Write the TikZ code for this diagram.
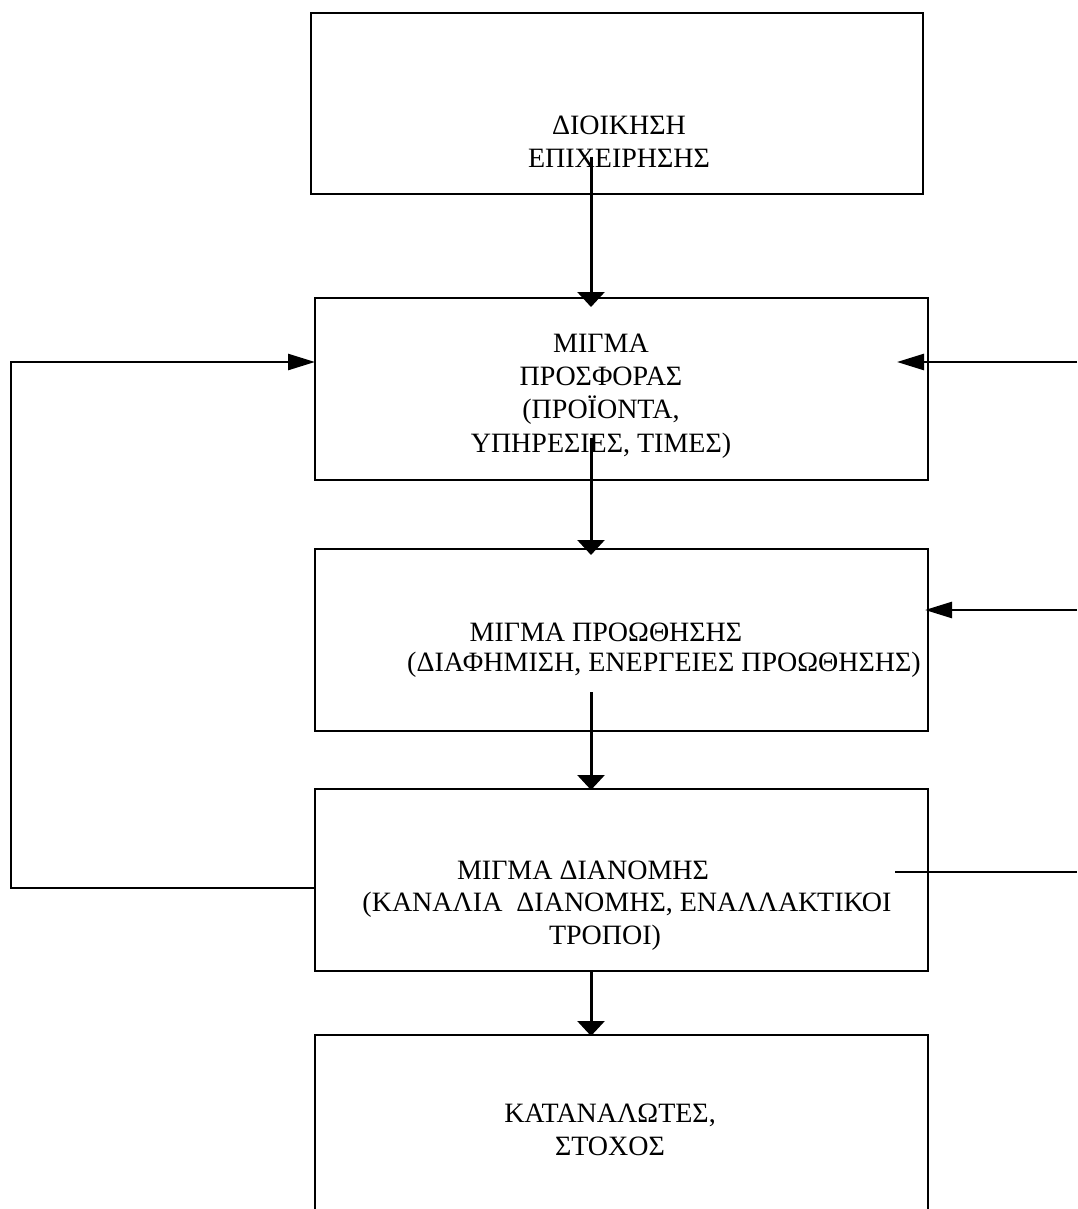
\documentclass[tikz,border=0pt]{standalone}
\usepackage{fontspec}
\setmainfont{Liberation Serif}
\usetikzlibrary{arrows.meta}
\begin{document}
\begin{tikzpicture}[x=0.5pt,y=-0.5pt,
  box/.style={draw, line width=1pt, rectangle, inner sep=0pt, outer sep=0pt},
  label/.style={font=\fontsize{14pt}{16.6pt}\selectfont, align=center, inner sep=0pt},
  downarrow/.style={line width=1.5pt, -{Triangle[width=13.5pt,length=7.5pt]}},
  sidearrow/.style={line width=1.3pt, -{Triangle[width=8pt,length=13.5pt]}},
  plainline/.style={line width=1.3pt}]
\useasboundingbox (0,0) rectangle (1077,1209);
\clip (0,0) rectangle (1077,1209);

% boxes
\node[box, minimum width=306pt, minimum height=90.5pt] (dioikisi) at (617,103.5) {};
\node[box, minimum width=306.5pt, minimum height=91pt] (prosfora) at (621.5,389) {};
\node[box, minimum width=306.5pt, minimum height=91pt] (proothisi) at (621.5,640) {};
\node[box, minimum width=306.5pt, minimum height=91pt] (dianomi) at (621.5,880) {};
\node[box, minimum width=306.5pt, minimum height=91pt] (katanalotes) at (621.5,1126) {};

% texts
\node[label] (t1) at (619,142) {ΔΙΟΙΚΗΣΗ\\ΕΠΙΧΕΙΡΗΣΗΣ};
\node[label] (t2) at (601,396) {ΜΙΓΜΑ\\ΠΡΟΣΦΟΡΑΣ\\(ΠΡΟΪΟΝΤΑ,\\ΥΠΗΡΕΣΙΕΣ, ΤΙΜΕΣ)};
\node[label] (t3a) at (606,632) {ΜΙΓΜΑ ΠΡΟΩΘΗΣΗΣ};
\node[label] (t3b) at (664,665) {(ΔΙΑΦΗΜΙΣΗ, ΕΝΕΡΓΕΙΕΣ ΠΡΟΩΘΗΣΗΣ)};
\node[label] (t4a) at (583,870) {ΜΙΓΜΑ ΔΙΑΝΟΜΗΣ};
\node[label] (t4b) at (627,905) {(ΚΑΝΑΛΙΑ\ \ ΔΙΑΝΟΜΗΣ, ΕΝΑΛΛΑΚΤΙΚΟΙ};
\node[label] (t4c) at (605,938) {ΤΡΟΠΟΙ)};
\node[label] (t5) at (610,1130) {ΚΑΤΑΝΑΛΩΤΕΣ,\\ΣΤΟΧΟΣ};

% points for the vertical flow
\coordinate (d1) at (591,157);
\coordinate (d1e) at (591,307);
\coordinate (d2) at (591,438);
\coordinate (d2e) at (591,555);
\coordinate (d3) at (591,692);
\coordinate (d3e) at (591,790);
\coordinate (d4) at (591,971);
\coordinate (d4e) at (591,1036);

\draw[downarrow] (d1) -- (d1e);
\draw[downarrow] (d2) -- (d2e);
\draw[downarrow] (d3) -- (d3e);
\draw[downarrow] (d4) -- (d4e);

% feedback loop on the left
\coordinate (fbout) at (315,888);
\coordinate (fbcornerlow) at (11,888);
\coordinate (fbcornerhigh) at (11,362);
\coordinate (fbin) at (315,362);
\draw[sidearrow] (fbout) -- (fbcornerlow) -- (fbcornerhigh) -- (fbin);

% lines on the right
\coordinate (r1) at (1077,362);
\coordinate (r1e) at (897,362);
\coordinate (r2) at (1077,610);
\coordinate (r2e) at (925,610);
\coordinate (r3) at (895,872);
\coordinate (r3e) at (1077,872);
\draw[sidearrow] (r1) -- (r1e);
\draw[sidearrow] (r2) -- (r2e);
\draw[plainline] (r3) -- (r3e);
\end{tikzpicture}
\end{document}
